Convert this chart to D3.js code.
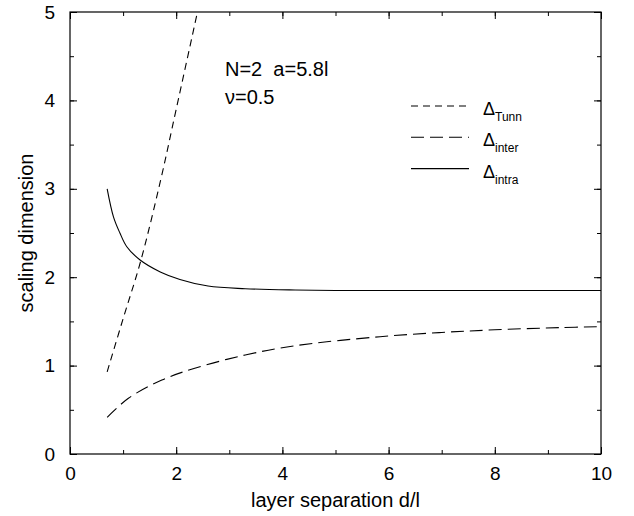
<!DOCTYPE html>
<html lang="en">
<head>
<meta charset="utf-8">
<title>scaling dimension</title>
<script src="https://cdn.jsdelivr.net/npm/d3@7"></script>
<style>
 body { margin: 0; background: #fff; }
 text { font-family: "Liberation Sans", Arial, sans-serif; fill: #000; }
</style>
</head>
<body>
<div id="graph"></div>
<script>
 // values
 const xTicks = [0, 2, 4, 6, 8, 10];
 const yTicks = [0, 1, 2, 3, 4, 5];

 const dTunn = [0.7, 1.0, 1.33, 1.7, 2.0, 2.4, 2.5];
 const vTunn = [0.93, 1.53, 2.18, 3.08, 3.9, 5.0, 5.28];

 const dInter = [0.7, 1.1, 1.73, 2.35, 3.3, 4.24, 5.84, 7, 8, 9.23, 10];
 const vInter = [0.415, 0.63, 0.837, 0.97, 1.12, 1.225, 1.327, 1.375, 1.405, 1.43, 1.44];

 const dIntra = [0.7, 0.82, 0.94, 1.07, 1.32, 1.7, 2.07, 2.6, 3.3, 4.24, 5, 6, 8, 10];
 const vIntra = [3.0, 2.68, 2.5, 2.345, 2.195, 2.06, 1.975, 1.9, 1.87, 1.855, 1.85, 1.85, 1.85, 1.85];

 const seriesNames = ["Tunn", "inter", "intra"];
 const dashes = ["7,5", "13,6", null];

 const W = 634, H = 516;
 const margin = {top: 12, right: 33, bottom: 62, left: 70};
 const width = W - margin.left - margin.right;
 const height = H - margin.top - margin.bottom;

 const x = d3.scaleLinear().domain([0, 10]).range([0, width]);
 const y = d3.scaleLinear().domain([0, 5]).range([height, 0]);

 const svg = d3.select("#graph").append("svg")
     .attr("width", W).attr("height", H);

 svg.append("defs").append("clipPath").attr("id", "clip")
     .append("rect").attr("width", width).attr("height", height);

 const g = svg.append("g")
     .attr("transform", "translate(" + margin.left + "," + margin.top + ")");

 //Axes with inward ticks, mirrored on top and right
 const minorX = d3.range(0, 10.01, 1);
 const minorY = d3.range(0, 5.01, 0.5);

 function tickAxis(axis, scale, vals, len) {
     return axis(scale).tickValues(vals).tickSizeInner(-len).tickSizeOuter(0).tickFormat("");
 }

 g.append("g").attr("transform", "translate(0," + height + ")")
     .call(tickAxis(d3.axisBottom, x, minorX, 4));
 g.append("g").attr("transform", "translate(0," + height + ")")
     .call(d3.axisBottom(x).tickValues(xTicks).tickFormat(d3.format("d"))
           .tickSizeInner(-7).tickSizeOuter(0).tickPadding(19))
     .call(a => a.selectAll("text").attr("font-size", 19).attr("dy", "0.35em"));
 g.append("g").call(tickAxis(d3.axisTop, x, minorX, 4));
 g.append("g").call(tickAxis(d3.axisTop, x, xTicks, 7));

 g.append("g").call(tickAxis(d3.axisLeft, y, minorY, 4));
 g.append("g")
     .call(d3.axisLeft(y).tickValues(yTicks).tickFormat(d3.format("d"))
           .tickSizeInner(-7).tickSizeOuter(0).tickPadding(15))
     .call(a => a.selectAll("text").attr("font-size", 19));
 g.append("g").attr("transform", "translate(" + width + ",0)")
     .call(tickAxis(d3.axisRight, y, minorY, 4));
 g.append("g").attr("transform", "translate(" + width + ",0)")
     .call(tickAxis(d3.axisRight, y, yTicks, 7));

 g.selectAll(".domain").remove();
 g.selectAll(".tick line").attr("stroke", "#000");
 g.selectAll(".tick text").attr("font-family", "Liberation Sans, Arial, sans-serif");

 //Frame
 g.append("rect").attr("width", width).attr("height", height)
     .attr("fill", "none").attr("stroke", "#000").attr("stroke-width", 1.2);

 //Axis titles
 g.append("text")
     .attr("x", width / 2).attr("y", height + 53)
     .attr("text-anchor", "middle").attr("font-size", 20)
     .text("layer separation d/l");
 g.append("text")
     .attr("transform", "rotate(-90)")
     .attr("x", -height / 2).attr("y", -37)
     .attr("text-anchor", "middle").attr("font-size", 20)
     .text("scaling dimension");

 //Curves
 const line = d3.line()
     .x(d => x(d[0]))
     .y(d => y(d[1]))
     .curve(d3.curveCatmullRom.alpha(0.5));

 const series = [
     d3.zip(dTunn, vTunn),
     d3.zip(dInter, vInter),
     d3.zip(dIntra, vIntra)
 ];

 const curves = g.append("g").attr("clip-path", "url(#clip)");
 series.forEach((s, i) => {
     curves.append("path")
         .attr("d", line(s))
         .attr("fill", "none")
         .attr("stroke", "#000")
         .attr("stroke-width", 1.1)
         .attr("stroke-dasharray", dashes[i]);
 });

 //Annotation
 g.append("text").attr("x", 155).attr("y", 64).attr("font-size", 20)
     .attr("xml:space", "preserve").text("N=2  a=5.8l");
 g.append("text").attr("x", 155).attr("y", 92).attr("font-size", 20)
     .text("\u03bd=0.5");

 //Legend
 const legend = g.append("g").attr("transform", "translate(341,94)");
 seriesNames.forEach((name, i) => {
     const row = legend.append("g").attr("transform", "translate(0," + (i * 31.3) + ")");
     row.append("line")
         .attr("x1", 0).attr("x2", 58)
         .attr("stroke", "#000").attr("stroke-width", 1.1)
         .attr("stroke-dasharray", dashes[i]);
     const t = row.append("text").attr("x", 72).attr("y", 9).attr("font-size", 18);
     t.append("tspan").text("\u0394");
     t.append("tspan").attr("dy", 6).attr("font-size", 12).text(name);
 });
</script>
</body>
</html>
